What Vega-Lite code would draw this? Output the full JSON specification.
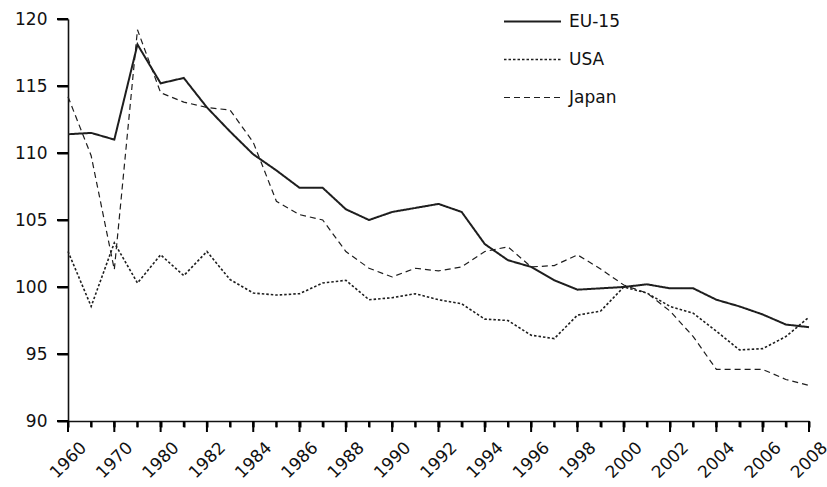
{
  "$schema": "https://vega.github.io/schema/vega-lite/v6.json",
  "width": 741,
  "height": 402,
  "autosize": "none",
  "padding": {"left": 68, "top": 19, "right": 18, "bottom": 66},
  "config": {
    "font": "DejaVu Sans",
    "view": {"stroke": null}
  },
  "datasets": {
    "series": [
      {"year": "1960", "EU-15": 111.4, "USA": 102.65, "Japan": 114.2},
      {"year": "1965", "EU-15": 111.5, "USA": 98.55, "Japan": 109.8},
      {"year": "1970", "EU-15": 111.0, "USA": 103.3, "Japan": 101.3},
      {"year": "1975", "EU-15": 118.1, "USA": 100.3, "Japan": 119.2},
      {"year": "1980", "EU-15": 115.2, "USA": 102.4, "Japan": 114.5},
      {"year": "1981", "EU-15": 115.6, "USA": 100.85, "Japan": 113.8},
      {"year": "1982", "EU-15": 113.4, "USA": 102.65, "Japan": 113.4},
      {"year": "1983", "EU-15": 111.6, "USA": 100.55, "Japan": 113.2},
      {"year": "1984", "EU-15": 109.9, "USA": 99.55, "Japan": 110.8},
      {"year": "1985", "EU-15": 108.7, "USA": 99.4, "Japan": 106.4},
      {"year": "1986", "EU-15": 107.4, "USA": 99.5, "Japan": 105.4},
      {"year": "1987", "EU-15": 107.4, "USA": 100.3, "Japan": 105.0},
      {"year": "1988", "EU-15": 105.8, "USA": 100.5, "Japan": 102.65},
      {"year": "1989", "EU-15": 105.0, "USA": 99.05, "Japan": 101.4},
      {"year": "1990", "EU-15": 105.6, "USA": 99.2, "Japan": 100.75},
      {"year": "1991", "EU-15": 105.9, "USA": 99.5, "Japan": 101.4},
      {"year": "1992", "EU-15": 106.2, "USA": 99.05, "Japan": 101.2},
      {"year": "1993", "EU-15": 105.6, "USA": 98.75, "Japan": 101.5},
      {"year": "1994", "EU-15": 103.2, "USA": 97.6, "Japan": 102.65},
      {"year": "1995", "EU-15": 102.0, "USA": 97.5, "Japan": 103.0},
      {"year": "1996", "EU-15": 101.5, "USA": 96.4, "Japan": 101.5},
      {"year": "1997", "EU-15": 100.5, "USA": 96.15, "Japan": 101.6},
      {"year": "1998", "EU-15": 99.8, "USA": 97.9, "Japan": 102.4},
      {"year": "1999", "EU-15": 99.9, "USA": 98.2, "Japan": 101.35},
      {"year": "2000", "EU-15": 100.0, "USA": 100.0, "Japan": 100.15},
      {"year": "2001", "EU-15": 100.2, "USA": 99.55, "Japan": 99.55},
      {"year": "2002", "EU-15": 99.9, "USA": 98.55, "Japan": 98.2},
      {"year": "2003", "EU-15": 99.9, "USA": 98.05, "Japan": 96.3},
      {"year": "2004", "EU-15": 99.05, "USA": 96.7, "Japan": 93.85},
      {"year": "2005", "EU-15": 98.55, "USA": 95.3, "Japan": 93.85},
      {"year": "2006", "EU-15": 97.95, "USA": 95.4, "Japan": 93.85},
      {"year": "2007", "EU-15": 97.2, "USA": 96.3, "Japan": 93.1},
      {"year": "2008", "EU-15": 97.0, "USA": 97.75, "Japan": 92.65}
    ],
    "xticks": [
      {"year": "1960", "kind": "major"}, {"year": "1965", "kind": "minor"}, {"year": "1970", "kind": "major"}, {"year": "1975", "kind": "minor"},
      {"year": "1980", "kind": "major"}, {"year": "1981", "kind": "minor"}, {"year": "1982", "kind": "major"}, {"year": "1983", "kind": "minor"},
      {"year": "1984", "kind": "major"}, {"year": "1985", "kind": "minor"}, {"year": "1986", "kind": "major"}, {"year": "1987", "kind": "minor"},
      {"year": "1988", "kind": "major"}, {"year": "1989", "kind": "minor"}, {"year": "1990", "kind": "major"}, {"year": "1991", "kind": "minor"},
      {"year": "1992", "kind": "major"}, {"year": "1993", "kind": "minor"}, {"year": "1994", "kind": "major"}, {"year": "1995", "kind": "minor"},
      {"year": "1996", "kind": "major"}, {"year": "1997", "kind": "minor"}, {"year": "1998", "kind": "major"}, {"year": "1999", "kind": "minor"},
      {"year": "2000", "kind": "major"}, {"year": "2001", "kind": "minor"}, {"year": "2002", "kind": "major"}, {"year": "2003", "kind": "minor"},
      {"year": "2004", "kind": "major"}, {"year": "2005", "kind": "minor"}, {"year": "2006", "kind": "major"}, {"year": "2007", "kind": "minor"},
      {"year": "2008", "kind": "major"}
    ],
    "yticks": [{"tick": 90}, {"tick": 95}, {"tick": 100}, {"tick": 105}, {"tick": 110}, {"tick": 115}, {"tick": 120}]
  },
  "layer": [
    {
      "data": {"name": "series"},
      "transform": [{"fold": ["EU-15", "USA", "Japan"], "as": ["series", "value"]}],
      "mark": {"type": "line", "color": "#1e1e1e", "strokeJoin": "miter"},
      "encoding": {
        "x": {
          "field": "year", "type": "ordinal", "sort": null,
          "scale": {"type": "point", "padding": 0},
          "axis": {
            "title": null, "orient": "bottom", "ticks": true, "tickSize": 6,
            "tickColor": "#000", "tickWidth": 2, "domainColor": "#111", "domainWidth": 1.6, "grid": false,
            "labelExpr": "indexof(['1960','1970','1980','1982','1984','1986','1988','1990','1992','1994','1996','1998','2000','2002','2004','2006','2008'], datum.label) >= 0 ? datum.label : ''",
            "labelAngle": -45, "labelAlign": "center", "labelBaseline": "middle", "labelPadding": 33,
            "labelOverlap": false, "labelBound": false,
            "labelFont": "DejaVu Sans", "labelFontSize": 17, "labelColor": "#111"
          }
        },
        "y": {
          "field": "value", "type": "quantitative",
          "scale": {"domain": [90, 120], "nice": false, "zero": false},
          "axis": {
            "title": null, "tickCount": 7, "ticks": true, "tickSize": 11, "labelPadding": 10,
            "tickColor": "#000", "tickWidth": 2, "domainColor": "#111", "domainWidth": 1.6, "grid": false,
            "labelFont": "DejaVu Sans", "labelFontSize": 17, "labelColor": "#111"
          }
        },
        "strokeDash": {
          "field": "series", "type": "nominal",
          "scale": {"domain": ["EU-15", "USA", "Japan"], "range": [[1, 0], [2.5, 2], [6, 4]]},
          "legend": {"title": null, "orient": "none", "legendX": 435, "legendY": -27, "symbolType": "stroke", "symbolSize": 3249, "symbolStrokeColor": "#1e1e1e", "labelFontSize": 17, "labelFont": "DejaVu Sans", "labelColor": "#111", "rowPadding": 0, "labelOffset": 7}
        },
        "strokeWidth": {
          "field": "series", "type": "nominal",
          "scale": {"domain": ["EU-15", "USA", "Japan"], "range": [2, 1.2, 2.6]},
          "legend": {"title": null, "orient": "none", "legendX": 435, "legendY": -27, "symbolType": "stroke", "symbolSize": 3249, "symbolStrokeColor": "#1e1e1e", "labelFontSize": 17, "labelFont": "DejaVu Sans", "labelColor": "#111", "rowPadding": 0, "labelOffset": 7}
        }
      }
    },
    {
      "data": {"name": "xticks"},
      "mark": {"type": "tick", "orient": "vertical", "color": "#000", "size": 6, "thickness": 2, "yOffset": 3, "opacity": 1},
      "encoding": {
        "x": {"field": "year", "type": "ordinal", "sort": null},
        "y": {"datum": 90, "type": "quantitative"}
      }
    },
    {
      "data": {"name": "xticks"},
      "transform": [{"filter": "datum.kind == 'major'"}],
      "mark": {"type": "tick", "orient": "vertical", "color": "#000", "size": 11, "thickness": 2, "yOffset": 5.5, "opacity": 1},
      "encoding": {
        "x": {"field": "year", "type": "ordinal", "sort": null},
        "y": {"datum": 90, "type": "quantitative"}
      }
    },
    {
      "data": {"name": "yticks"},
      "mark": {"type": "tick", "orient": "horizontal", "color": "#000", "size": 11, "thickness": 2, "xOffset": -5.5, "opacity": 1},
      "encoding": {
        "x": {"datum": "1960", "type": "ordinal"},
        "y": {"field": "tick", "type": "quantitative"}
      }
    }
  ]
}
